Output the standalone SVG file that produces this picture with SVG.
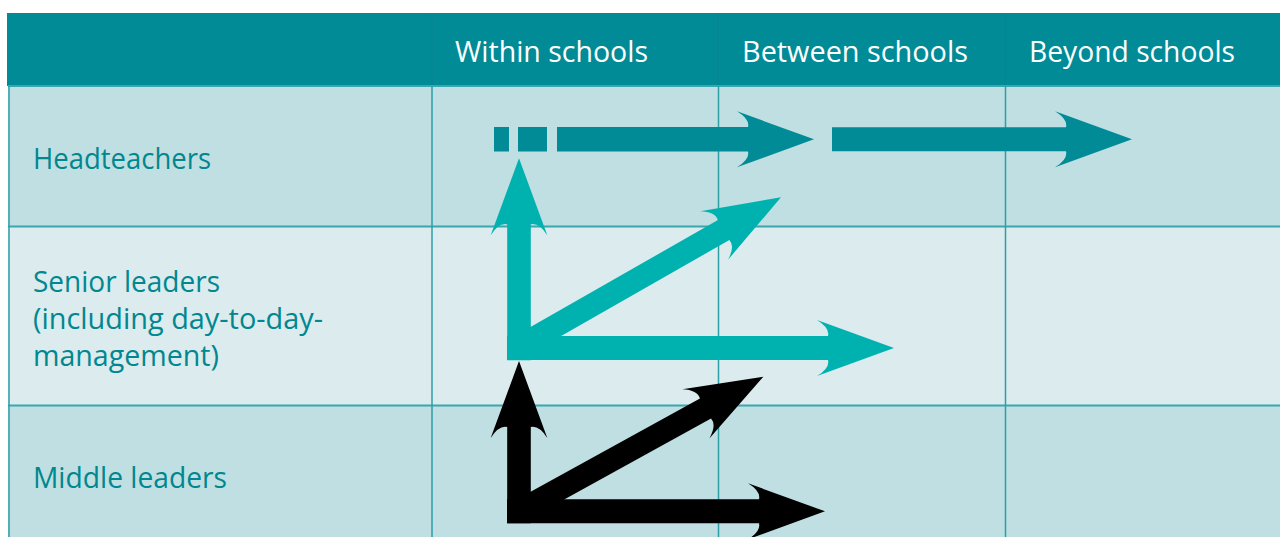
<svg xmlns="http://www.w3.org/2000/svg" width="1280" height="537" viewBox="0 0 1280 537">
<style>
.hdr{fill:#008b97}
.r1{fill:#bfdfe2}
.r2{fill:#dbebee}
.grid{stroke:#2e9ea7;stroke-width:1.5;fill:none}
.hgrid{stroke:#3aa7af;stroke-width:2;fill:none}
.hline{stroke:#0a8190;stroke-width:1;fill:none}
.ht{font-family:"Open Sans","Noto Sans",sans-serif;font-size:30px;fill:#ffffff}
.lt{font-family:"Open Sans","Noto Sans",sans-serif;font-size:30px;fill:#00878f}
.dk{fill:#008b96}
.cy{fill:#00b2af}
.bk{fill:#000000}
</style>
<rect x="0" y="0" width="1280" height="537" fill="#ffffff"/>
<g id="table">
  <rect class="hdr" x="7" y="13" width="1273" height="73"/>
  <rect class="r1" x="8" y="86" width="1272" height="140"/>
  <rect class="r2" x="8" y="226" width="1272" height="179"/>
  <rect class="r1" x="8" y="405" width="1272" height="132"/>
  <line class="hline" x1="432" y1="13" x2="432" y2="86"/>
  <line class="hline" x1="718" y1="13" x2="718" y2="86"/>
  <line class="hline" x1="1005" y1="13" x2="1005" y2="86"/>
  <line class="hgrid" x1="8" y1="86" x2="1280" y2="86"/>
  <line class="hgrid" x1="8" y1="226.5" x2="1280" y2="226.5"/>
  <line class="hgrid" x1="8" y1="405.5" x2="1280" y2="405.5"/>
  <line class="grid" x1="9" y1="86" x2="9" y2="537"/>
  <line class="grid" x1="432" y1="86" x2="432" y2="537"/>
  <line class="grid" x1="718.5" y1="86" x2="718.5" y2="537"/>
  <line class="grid" x1="1005.5" y1="86" x2="1005.5" y2="537"/>
</g>
<g id="col-within"><text class="ht" x="455" y="62" textLength="193" lengthAdjust="spacingAndGlyphs">Within schools</text></g>
<g id="col-between"><text class="ht" x="742" y="62" textLength="226" lengthAdjust="spacingAndGlyphs">Between schools</text></g>
<g id="col-beyond"><text class="ht" x="1029" y="62" textLength="206" lengthAdjust="spacingAndGlyphs">Beyond schools</text></g>
<g id="row-headteachers"><text class="lt" x="33" y="169" textLength="178" lengthAdjust="spacingAndGlyphs">Headteachers</text></g>
<g id="row-senior">
  <text class="lt" x="33" y="292" textLength="187" lengthAdjust="spacingAndGlyphs">Senior leaders</text>
  <text class="lt" x="33" y="329" textLength="290" lengthAdjust="spacingAndGlyphs">(including day-to-day-</text>
  <text class="lt" x="33" y="366" textLength="186" lengthAdjust="spacingAndGlyphs">management)</text>
</g>
<g id="row-middle"><text class="lt" x="33" y="488" textLength="194" lengthAdjust="spacingAndGlyphs">Middle leaders</text></g>
<g id="connectors">
  <rect class="dk" x="494" y="127" width="15" height="24.5"/>
  <rect class="dk" x="518" y="127" width="29" height="24.5"/>
  <path class="dk" transform="translate(814,139.3)" d="M-257,-12.2 H-66 Q-64,-20 -77,-28 L0,0 L-77,28 Q-64,20 -66,12.2 H-257 Z"/>
  <path class="dk" transform="translate(1132,139.3)" d="M-300,-12 H-66 Q-64,-20 -77,-28 L0,0 L-77,28 Q-64,20 -66,12 H-300 Z"/>
  <path class="cy" transform="translate(519,158.3) rotate(-90)" d="M-202,-11.8 H-66 Q-64,-20 -77,-28.3 L0,0 L-77,28.3 Q-64,20 -66,11.8 H-202 Z"/>
  <path class="cy" transform="translate(894,348) rotate(0)" d="M-387,-12 H-66 Q-64,-20 -77,-28 L0,0 L-77,28 Q-64,20 -66,12 H-387 Z"/>
  <path class="cy" transform="translate(781,197.3) rotate(-29.7)" d="M-300,-11.5 H-66 Q-64,-20 -77,-28 L0,0 L-77,28 Q-64,20 -66,11.5 H-300 Z"/>
  <path class="bk" transform="translate(519,361) rotate(-90)" d="M-162.3,-11.8 H-66 Q-64,-20 -77,-28.3 L0,0 L-77,28.3 Q-64,20 -66,11.8 H-162.3 Z"/>
  <path class="bk" transform="translate(825,511.3)" d="M-318,-12 H-66 Q-64,-20 -77,-28 L0,0 L-77,28 Q-64,20 -66,12 H-318 Z"/>
  <path class="bk" transform="translate(763.3,376.7) rotate(-28.85)" d="M-279,-11.5 H-66 Q-64,-20 -77,-28 L0,0 L-77,28 Q-64,20 -66,11.5 H-279 Z"/>
</g>
</svg>
